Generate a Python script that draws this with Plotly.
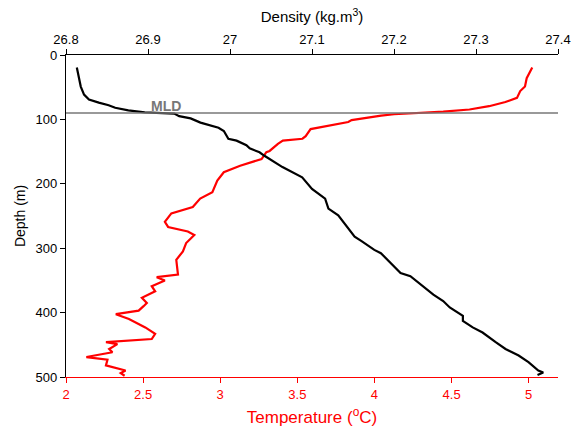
import plotly.graph_objects as go

# Density profile (black)
dens_depth = [19.5, 36, 49, 61.5, 69, 74, 78, 82, 86, 89, 91, 95, 98.5, 105, 113, 118, 130, 133, 140,
              145, 151, 156.5, 174, 190, 208, 223, 238.5, 249, 261.5, 282, 288.7, 302.6, 307.7, 323,
              338.5, 343.5, 356, 372, 382, 392, 405, 413, 423, 431, 446, 456.5, 466.6, 477, 490, 493, 497]
dens_vals = [26.8132, 26.816, 26.818, 26.822, 26.828, 26.840, 26.852, 26.860, 26.876, 26.896, 26.932,
             26.938, 26.952, 26.964, 26.986, 26.9925, 26.998, 27.008, 27.020, 27.024, 27.036, 27.042,
             27.064, 27.088, 27.100, 27.116, 27.120, 27.132, 27.140, 27.152, 27.160, 27.176, 27.184,
             27.196, 27.208, 27.220, 27.232, 27.248, 27.260, 27.268, 27.284, 27.284, 27.296, 27.308,
             27.324, 27.336, 27.352, 27.364, 27.376, 27.382, 27.375]

# Temperature profile (red)
temp_depth = [19.5, 25.6, 36, 49, 56, 66.6, 73, 79.5, 84.6, 88, 90, 92, 94, 101, 104, 110, 115, 126,
              130, 133, 138, 149, 151, 161.5, 164, 172, 182, 195, 213, 223, 236, 246, 259, 267, 274,
              279.5, 292, 305, 318, 341, 345, 350, 359, 367, 377, 385, 390, 397, 402.5, 410, 423, 433,
              441, 446, 449, 456.5, 461.5, 469, 473, 482, 490, 494, 498]
temp_vals = [5.023, 5.008, 4.987, 4.976, 4.945, 4.924, 4.849, 4.743, 4.616, 4.446, 4.255, 4.127, 4.043,
             3.852, 3.830, 3.703, 3.586, 3.554, 3.533, 3.406, 3.374, 3.320, 3.299, 3.268, 3.236, 3.129,
             3.023, 2.981, 2.949, 2.870, 2.822, 2.683, 2.641, 2.662, 2.790, 2.832, 2.779, 2.758, 2.715,
             2.726, 2.588, 2.641, 2.556, 2.578, 2.492, 2.524, 2.503, 2.471, 2.323, 2.408, 2.514, 2.578,
             2.556, 2.259, 2.333, 2.280, 2.301, 2.132, 2.269, 2.259, 2.386, 2.355, 2.380]

mld_depth = 90

temp_ticks = [2, 2.5, 3, 3.5, 4, 4.5, 5]
temp_labels = ["2", "2.5", "3", "3.5", "4", "4.5", "5"]
dens_ticks = [26.8, 26.9, 27.0, 27.1, 27.2, 27.3, 27.4]
dens_labels = ["26.8", "26.9", "27", "27.1", "27.2", "27.3", "27.4"]
depth_ticks = [0, 100, 200, 300, 400, 500]

fig = go.Figure()
fig.add_trace(go.Scatter(x=temp_vals, y=temp_depth, mode="lines",
                         line=dict(color="#ff0000", width=2.2), xaxis="x", yaxis="y",
                         showlegend=False))
fig.add_trace(go.Scatter(x=dens_vals, y=dens_depth, mode="lines",
                         line=dict(color="#000000", width=2.2), xaxis="x2", yaxis="y",
                         showlegend=False))

fig.add_shape(type="line", xref="paper", yref="y", x0=0, x1=1, y0=mld_depth, y1=mld_depth,
              line=dict(color="#777777", width=1.5))
fig.add_annotation(x=2.65, y=mld_depth, xref="x", yref="y", text="<b>MLD</b>",
                   showarrow=False, yanchor="bottom", yshift=-3,
                   font=dict(color="#777777", size=14, family="Liberation Sans, Arial"))

font = dict(family="Liberation Sans, Arial, sans-serif", size=13, color="black")

fig.update_layout(
    width=583, height=436,
    margin=dict(l=66, r=16, t=55, b=56),
    paper_bgcolor="white", plot_bgcolor="white",
    font=font,
    xaxis=dict(range=[2, 5.19], tickvals=temp_ticks, ticktext=temp_labels,
               showline=True, linecolor="#ff0000", linewidth=1.2,
               ticks="outside", tickcolor="#ff0000", ticklen=5,
               tickfont=dict(color="#ff0000", size=13),
               showgrid=False, zeroline=False,
               title=dict(text="Temperature (<sup>o</sup>C)", font=dict(color="#ff0000", size=17),
                          standoff=10)),
    xaxis2=dict(range=[26.8, 27.4], tickvals=dens_ticks, ticktext=dens_labels,
                overlaying="x", side="top", anchor="y",
                showline=True, linecolor="black", linewidth=1.2,
                ticks="outside", tickcolor="black", ticklen=5,
                tickfont=dict(size=13), showgrid=False, zeroline=False,
                title=dict(text="Density (kg.m<sup>3</sup>)", font=dict(size=15), standoff=5)),
    yaxis=dict(range=[500, 0], tickvals=depth_ticks,
               showline=True, linecolor="black", linewidth=1.2,
               ticks="outside", tickcolor="black", ticklen=5,
               tickfont=dict(size=13), showgrid=False, zeroline=False,
               title=dict(text="Depth (m)", font=dict(size=14), standoff=6)),
)

fig.write_html("out.html")
